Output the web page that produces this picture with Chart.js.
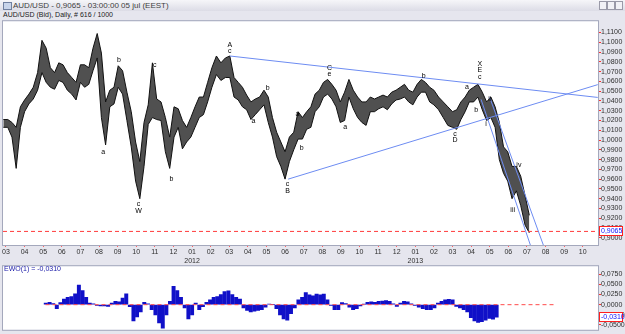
<!DOCTYPE html>
<html>
<head>
<meta charset="utf-8">
<script src="https://cdn.jsdelivr.net/npm/chart.js@4.4.0/dist/chart.umd.min.js"></script>
<style>
  body { margin: 0; width: 625px; height: 334px; overflow: hidden; background: #e6e6ee; position: relative;
         font-family: "Liberation Sans", Arial, sans-serif; }
  #title { position: absolute; left: 0; top: 0; width: 625px; height: 11px; background: linear-gradient(#f6f6f9, #dcdce6);
           font-size: 8px; line-height: 11px; color: #404040; }
  #title .ico { position: absolute; left: 3px; top: 2px; width: 7px; height: 6px; border: 1px solid #7080a0; background: #c8d4ea; }
  #title .txt { position: absolute; left: 13px; top: 0; }
  #title .btn { position: absolute; top: 1px; width: 6px; height: 7px; border: 1px solid #9a9aa8; background: #f2f2f6; }
  #sub { position: absolute; left: 3px; top: 11px; font-size: 7px; line-height: 7px; color: #202020; }
  #main { position: absolute; left: 0; top: 17px; }
  #ewo { position: absolute; left: 0; top: 262px; }
  #ewolab { position: absolute; left: 4px; top: 265px; font-size: 7px; line-height: 8px; color: #1a1aa8; }
</style>
</head>
<body>
<div id="title">
  <span class="ico"></span><span class="txt">AUD/USD - 0,9065 - 03:00:00 05 jul (EEST)</span>
  <span class="btn" style="left:599px"></span><span class="btn" style="left:607px"></span><span class="btn" style="left:615px"></span>
</div>
<div id="sub">AUD/USD (Bid), Daily, # 616 / 1000</div>
<canvas id="main" width="625" height="247"></canvas>
<canvas id="ewo" width="625" height="72"></canvas>
<div id="ewolab">EWO(1) = -0,0310</div>

<script>
// ---- data (weekly ranges, starting 2011-02-25) ----
const firstWeek = '2011-02-25';

const priceHigh = [
  1.021, 1.021, 1.018, 1.013, 1.034, 1.041, 1.047, 1.054, 1.069, 1.102,
  1.094, 1.074, 1.069, 1.079, 1.077, 1.069, 1.064, 1.059, 1.077, 1.077,
  1.074, 1.094, 1.109, 1.089, 1.039, 1.051, 1.054, 1.076, 1.071, 1.049,
  1.029, 0.998, 0.978, 1.018, 1.036, 1.079, 1.042, 1.039, 1.023, 1.003,
  1.034, 1.032, 1.020, 1.013, 1.023, 1.034, 1.044, 1.044, 1.059, 1.074,
  1.086, 1.079, 1.084, 1.086, 1.064, 1.059, 1.054, 1.046, 1.039, 1.042,
  1.044, 1.051, 1.044, 1.023, 1.008, 0.998, 0.988, 1.003, 1.008, 1.029,
  1.023, 1.029, 1.034, 1.047, 1.051, 1.059, 1.062, 1.057, 1.051, 1.039,
  1.049, 1.062, 1.051, 1.044, 1.039, 1.039, 1.044, 1.042, 1.044, 1.046,
  1.044, 1.049, 1.051, 1.054, 1.057, 1.051, 1.049, 1.057, 1.062, 1.059,
  1.054, 1.051, 1.044, 1.039, 1.034, 1.029, 1.031, 1.039, 1.044, 1.051,
  1.054, 1.057, 1.049, 1.039, 1.044, 1.034, 1.018, 0.993, 0.988, 0.973,
  0.973, 0.963, 0.943, 0.923
];
const priceLow = [
  1.013, 1.013, 1.003, 0.971, 1.013, 1.029, 1.037, 1.042, 1.051, 1.069,
  1.059, 1.054, 1.052, 1.061, 1.059, 1.051, 1.047, 1.041, 1.059, 1.054,
  1.057, 1.071, 1.084, 1.023, 0.995, 1.034, 1.037, 1.054, 1.047, 1.020,
  0.993, 0.958, 0.940, 0.973, 1.016, 1.023, 1.021, 1.020, 0.988, 0.971,
  1.003, 1.013, 0.991, 0.998, 1.003, 1.013, 1.023, 1.026, 1.039, 1.054,
  1.067, 1.061, 1.064, 1.064, 1.044, 1.041, 1.034, 1.031, 1.021, 1.026,
  1.031, 1.036, 1.018, 1.003, 0.983, 0.973, 0.960, 0.978, 0.990, 1.001,
  1.001, 1.011, 1.013, 1.029, 1.034, 1.044, 1.047, 1.042, 1.034, 1.018,
  1.020, 1.044, 1.032, 1.023, 1.018, 1.015, 1.029, 1.029, 1.032, 1.034,
  1.031, 1.037, 1.041, 1.042, 1.044, 1.039, 1.036, 1.044, 1.049, 1.049,
  1.039, 1.036, 1.031, 1.023, 1.015, 1.013, 1.011, 1.021, 1.029, 1.039,
  1.039, 1.044, 1.031, 1.020, 1.023, 1.013, 0.980, 0.966, 0.958, 0.940,
  0.948, 0.933, 0.913, 0.905
];
const ewoValues = [
  0.004, 0.006, 0.003, -0.010, 0.005, 0.014, 0.018, 0.020, 0.027, 0.048,
  0.035, 0.018, 0.004, 0.002, -0.002, -0.003, -0.003, -0.004, 0.004, 0.008,
  0.007, 0.016, 0.027, -0.005, -0.040, -0.030, -0.018, 0.006, 0.002, -0.012,
  -0.025, -0.045, -0.058, -0.025, 0.008, 0.045, 0.035, 0.018, -0.008, -0.035,
  -0.025, 0.004, -0.012, -0.005, 0.006, 0.012, 0.018, 0.020, 0.025, 0.032,
  0.034, 0.025, 0.018, 0.014, -0.008, -0.014, -0.018, -0.016, -0.014, -0.012,
  -0.006, 0.001, 0.000, -0.010, -0.025, -0.035, -0.038, -0.022, -0.008, 0.012,
  0.018, 0.030, 0.024, 0.022, 0.026, 0.024, 0.026, 0.012, -0.002, -0.012,
  -0.012, 0.005, 0.003, -0.006, -0.012, -0.010, -0.003, 0.001, 0.006, 0.007,
  0.006, 0.008, 0.009, 0.010, 0.008, 0.002, -0.004, 0.004, 0.008, 0.007,
  0.002, -0.002, -0.006, -0.010, -0.012, -0.012, -0.008, 0.004, 0.008, 0.012,
  0.013, 0.012, -0.004, -0.008, -0.012, -0.018, -0.032, -0.040, -0.044, -0.042,
  -0.038, -0.034, -0.036, -0.031
];

const lastPrice = 0.9065;
const lastEwo = -0.0310;

// month tick labels, Mar 2011 .. Oct 2013
const monthLabels = ['03','04','05','06','07','08','09','10','11','12',
  '01','02','03','04','05','06','07','08','09','10','11','12',
  '01','02','03','04','05','06','07','08','09','10'];
const yearLabels = { 10: '2012', 22: '2013' };

// trend lines / channel: [start date, price], [end date, price]
const trendLines = [
  [['2012-03-02', 1.0860], ['2013-10-26', 1.0436]],
  [['2012-06-06', 0.9600], ['2013-10-26', 1.0567]],
  [['2013-04-17', 1.0416], ['2013-07-12', 0.8830]],
  [['2013-05-01', 1.0436], ['2013-08-03', 0.8830]],
];

// wave counts: [text, date, price]
const waveLabels = [
  ['a', '2011-08-08', 0.988], ['b', '2011-09-03', 1.082],
  ['c', '2011-10-05', 0.935], ['W', '2011-10-05', 0.927],
  ['c', '2011-11-01', 1.077], ['b', '2011-11-28', 0.960],
  ['A', '2012-03-02', 1.097], ['c', '2012-03-02', 1.091],
  ['a', '2012-04-10', 1.0195], ['b', '2012-05-03', 1.0527],
  ['c', '2012-06-05', 0.955], ['B', '2012-06-05', 0.948],
  ['a', '2012-06-21', 1.0265], ['b', '2012-06-28', 0.9913],
  ['C', '2012-08-13', 1.0738], ['e', '2012-08-13', 1.0677],
  ['a', '2012-09-08', 1.0134], ['b', '2013-01-15', 1.0657],
  ['c', '2013-03-05', 1.0064], ['D', '2013-03-05', 1.0003],
  ['a', '2013-03-25', 1.0537],
  ['X', '2013-04-15', 1.0778], ['E', '2013-04-15', 1.0718], ['c', '2013-04-15', 1.0647],
  ['b', '2013-04-09', 1.0305], ['ii', '2013-05-01', 1.0416], ['i', '2013-04-25', 1.0164],
  ['iv', '2013-06-18', 0.974], ['iii', '2013-06-08', 0.928],
];

// ---- helpers ----
// month index on the x axis: 0 = start of March 2011
function toM(s) {
  const [y, mo, d] = s.split('-').map(Number);
  const dim = new Date(y, mo, 0).getDate();
  return (y - 2011) * 12 + (mo - 3) + (d - 1) / dim;
}
function weekDate(i) {
  const t = new Date(firstWeek + 'T00:00:00Z');
  t.setUTCDate(t.getUTCDate() + 7 * i);
  return t.toISOString().slice(0, 10);
}
const fmt = v => (Math.abs(v) < 1e-9 ? 0 : v).toFixed(4).replace('.', ',');

const weekX = priceHigh.map((_, i) => toM(weekDate(i)));
const X_MIN = -0.16, X_MAX = 31.82;

const frame = {
  id: 'frame',
  beforeDraw(chart) {
    const { ctx, chartArea: a } = chart;
    ctx.save();
    ctx.fillStyle = '#ffffff';
    ctx.fillRect(a.left, a.top, a.right - a.left, a.bottom - a.top);
    ctx.restore();
  },
  afterDraw(chart) {
    const { ctx, chartArea: a } = chart;
    ctx.save();
    ctx.strokeStyle = '#a4a8bc';
    ctx.lineWidth = 1;
    ctx.strokeRect(a.left - 0.5, a.top - 0.5, a.right - a.left + 1, a.bottom - a.top + 1);
    // boxed last value on the axis
    const v = chart.options.plugins.frame.last;
    const y = Math.round(chart.scales.y.getPixelForValue(v));
    ctx.fillStyle = '#ffffff';
    ctx.fillRect(a.right + 1.5, y - 4.5, 23, 9);
    ctx.strokeStyle = '#ff2020';
    ctx.strokeRect(a.right + 1.5, y - 4.5, 23, 9);
    ctx.fillStyle = '#1010ff';
    ctx.font = '7px "Liberation Sans", Arial';
    ctx.textBaseline = 'middle';
    ctx.fillText(fmt(v), a.right + 3, y + 0.5);
    ctx.restore();
  }
};

const waves = {
  id: 'waves',
  afterDatasetsDraw(chart) {
    const { ctx, scales } = chart;
    ctx.save();
    ctx.fillStyle = '#000';
    ctx.font = '7px "Liberation Sans", Arial';
    ctx.textAlign = 'center';
    ctx.textBaseline = 'middle';
    waveLabels.forEach(([t, d, p]) => {
      ctx.fillText(t, scales.x.getPixelForValue(toM(d)), scales.y.getPixelForValue(p));
    });
    ctx.restore();
  }
};

const axisFont = { size: 7, family: '"Liberation Sans", Arial' };

// ---- main price chart ----
new Chart(document.getElementById('main'), {
  type: 'line',
  data: {
    datasets: [
      {
        data: weekX.map((x, i) => ({ x, y: priceHigh[i] })),
        borderColor: '#111111',
        borderWidth: 1,
        pointRadius: 0,
        order: 4,
      },
      {
        data: weekX.map((x, i) => ({ x, y: priceLow[i] })),
        borderColor: '#111111',
        borderWidth: 1,
        backgroundColor: '#505050',
        fill: '-1',
        pointRadius: 0,
        order: 4,
      },
      ...trendLines.map(l => ({
        data: l.map(([d, p]) => ({ x: toM(d), y: p })),
        borderColor: '#6d8cf2',
        borderWidth: 1,
        pointRadius: 0,
        order: 1,
      })),
      {
        data: [{ x: X_MIN, y: lastPrice }, { x: X_MAX, y: lastPrice }],
        borderColor: '#ff3b3b',
        borderWidth: 1,
        borderDash: [4, 3],
        pointRadius: 0,
        order: 2,
      },
    ]
  },
  options: {
    responsive: false,
    animation: false,
    layout: { padding: { left: 3, top: 0, right: 0, bottom: 0 } },
    plugins: { legend: { display: false }, tooltip: { enabled: false }, frame: { last: lastPrice } },
    scales: {
      x: {
        type: 'linear', min: X_MIN, max: X_MAX, offset: false,
        afterFit: s => { s.height = 19; },
        grid: { drawOnChartArea: false, tickLength: 2, tickColor: '#ff6060', tickWidth: 1 },
        border: { display: false },
        ticks: {
          stepSize: 1, includeBounds: false, autoSkip: false, maxRotation: 0, padding: 1,
          color: '#303030', font: axisFont,
          callback: v => {
            const m = monthLabels[v];
            if (m === undefined) return '';
            return yearLabels[v] ? [m, yearLabels[v]] : m;
          }
        }
      },
      y: {
        position: 'right', min: 0.8926, max: 1.1216,
        afterFit: s => { s.width = 27; },
        grid: { drawOnChartArea: false, tickLength: 3, tickColor: '#ff3030' },
        border: { display: false },
        ticks: {
          stepSize: 0.01, includeBounds: false, autoSkip: false, padding: 0, color: '#303030', font: axisFont,
          callback: v => (v > 1.115 ? null : fmt(v))
        }
      }
    }
  },
  plugins: [frame, waves]
});

// ---- EWO histogram ----
new Chart(document.getElementById('ewo'), {
  type: 'bar',
  data: {
    datasets: [
      {
        type: 'bar',
        data: weekX.map((x, i) => ({ x, y: ewoValues[i] })),
        backgroundColor: '#1010c8',
        barThickness: 3.3,
        order: 2,
      },
      {
        type: 'line',
        data: [{ x: X_MIN, y: 0 }, { x: X_MAX, y: 0 }],
        borderColor: '#ff4a4a',
        borderWidth: 1,
        borderDash: [4, 3],
        pointRadius: 0,
        order: 1,
      },
    ]
  },
  options: {
    responsive: false,
    animation: false,
    layout: { padding: { left: 3, top: 3, right: 0, bottom: 3 } },
    plugins: { legend: { display: false }, tooltip: { enabled: false }, frame: { last: lastEwo } },
    scales: {
      x: { type: 'linear', min: X_MIN, max: X_MAX, display: false },
      y: {
        position: 'right', min: -0.0619, max: 0.0948,
        afterFit: s => { s.width = 27; },
        grid: { drawOnChartArea: false, tickLength: 3, tickColor: '#ff3030' },
        border: { display: false },
        ticks: { stepSize: 0.025, includeBounds: false, autoSkip: false, padding: 0, color: '#303030', font: axisFont, callback: fmt }
      }
    }
  },
  plugins: [frame]
});
</script>
</body>
</html>
